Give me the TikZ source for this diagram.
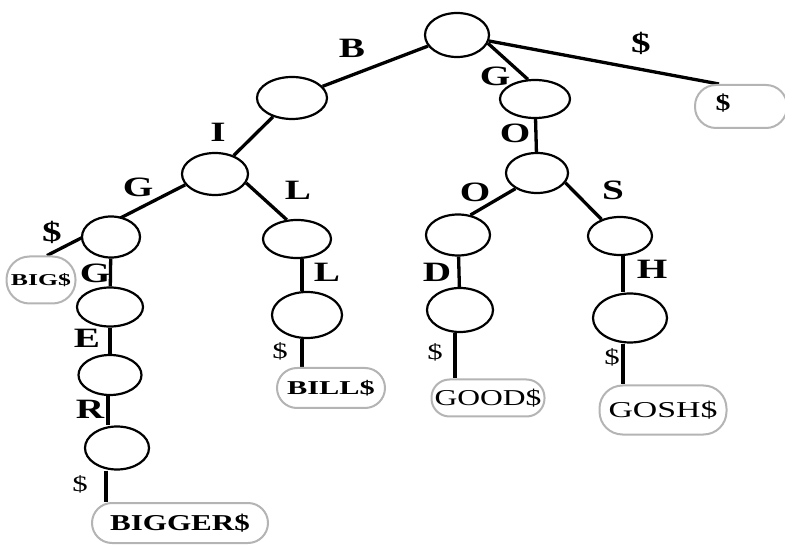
\documentclass[tikz,border=0pt]{standalone}
\usepackage{fontspec}
\usepackage{graphicx}
\setmainfont{Liberation Serif}
\usetikzlibrary{shapes.geometric}
\pgfdeclarelayer{bg}
\pgfsetlayers{bg,main}
\definecolor{leafgray}{RGB}{180,180,180}
\newcommand\sxt[2]{\scalebox{#1}[1]{#2}}
\begin{document}
\begin{tikzpicture}[x=1pt,y=-1pt,
  tnode/.style={draw, line width=2.2pt, ellipse, fill=white, inner sep=0pt},
  leaf/.style={draw=leafgray, line width=2pt, rounded corners=20pt, fill=white, inner sep=0pt, rectangle},
  edge/.style={line width=3.3pt},
  lab/.style={font=\fontsize{28}{28}\selectfont\bfseries, inner sep=0pt},
  slab/.style={font=\fontsize{22}{22}\selectfont, inner sep=0pt}]
\useasboundingbox (0,0) rectangle (785,545);

% internal nodes
\node[tnode, minimum width=64pt, minimum height=44pt] (root) at (457,35) {};
\node[tnode, minimum width=70pt, minimum height=42pt] (b) at (292,98) {};
\node[tnode, minimum width=70pt, minimum height=38pt] (go) at (535,99) {};
\node[tnode, minimum width=66pt, minimum height=42pt] (bi) at (215,174) {};
\node[tnode, minimum width=62pt, minimum height=40pt] (goo1) at (537,173) {};
\node[tnode, minimum width=58pt, minimum height=41pt] (big) at (111,237) {};
\node[tnode, minimum width=68pt, minimum height=38pt] (bil) at (297,239) {};
\node[tnode, minimum width=64pt, minimum height=41pt] (goo) at (458,235) {};
\node[tnode, minimum width=64pt, minimum height=38pt] (gos) at (620,236) {};
\node[tnode, minimum width=66pt, minimum height=39pt] (bigg) at (110,307) {};
\node[tnode, minimum width=70pt, minimum height=46pt] (bill) at (307,315) {};
\node[tnode, minimum width=66pt, minimum height=44pt] (good) at (460,310) {};
\node[tnode, minimum width=74pt, minimum height=49pt] (gosh) at (630,318) {};
\node[tnode, minimum width=63pt, minimum height=40pt] (bigge) at (110,375) {};
\node[tnode, minimum width=64pt, minimum height=43pt] (bigger) at (117,448) {};

% leaves
\node[leaf, minimum width=92pt, minimum height=43pt, rounded corners=21pt] (dleaf) at (741,106.5) {};
\node[font=\fontsize{23}{23}\selectfont\bfseries, inner sep=0pt] (dleaftxt) at (723,103) {\sxt{1.3}{\$}};
\node[leaf, minimum width=69pt, minimum height=47pt, rounded corners=23pt] (bigleaf) at (41,280)
  {\fontsize{16.6}{16.6}\selectfont\bfseries\sxt{1.55}{BIG\$}};
\node[leaf, minimum width=176pt, minimum height=40pt, rounded corners=20pt] (biggerleaf) at (180,523)
  {\fontsize{22.7}{22.7}\selectfont\bfseries\sxt{1.37}{BIGGER\$}};
\node[leaf, minimum width=108pt, minimum height=40pt, rounded corners=20pt] (billleaf) at (331,388)
  {\fontsize{19.6}{19.6}\selectfont\bfseries\sxt{1.55}{BILL\$}};
\node[leaf, minimum width=113pt, minimum height=37pt, rounded corners=18pt] (goodleaf) at (488,398)
  {\fontsize{22.7}{22.7}\selectfont\sxt{1.39}{GOOD\$}};
\node[leaf, minimum width=127pt, minimum height=49pt, rounded corners=23pt] (goshleaf) at (663,410)
  {\fontsize{22.7}{22.7}\selectfont\sxt{1.49}{GOSH\$}};

% edges
\begin{pgfonlayer}{bg}
\draw[edge] (root) -- (b);
\draw[edge] (root.-15) -- (go.110);
\draw[edge] (root) -- ([xshift=25pt]dleaf.north west);
\draw[edge] (b) -- (bi);
\draw[edge] (go) -- (goo1);
\draw[edge] (bi.200) -- ([xshift=6pt]bigleaf.north);
\draw[edge] (bi.-16) -- (bil.118);
\draw[edge] (goo1.216) -- (goo.58);
\draw[edge] (goo1.-19) -- (gos.138);
\draw[edge] (big) -- (bigg);
\draw[edge] (bigg) -- (bigge);
\draw[edge] ([xshift=-2pt]bigge.south) -- ([xshift=-9pt]bigger.north);
\draw[edge] ([xshift=-11pt]bigger.south) -- ([xshift=-74pt]biggerleaf.north);
\draw[edge] ([xshift=5pt]bil.south) -- ([xshift=-5pt]bill.north);
\draw[edge] ([xshift=-5pt]bill.south) -- ([xshift=-29pt]billleaf.north);
\draw[edge] (goo) -- (good);
\draw[edge] ([xshift=-5pt]good.south) -- ([xshift=-33pt]goodleaf.north);
\draw[edge] ([xshift=3pt]gos.south) -- ([xshift=-7pt]gosh.north);
\draw[edge] ([xshift=-7pt]gosh.south) -- ([xshift=-40pt]goshleaf.north);
\end{pgfonlayer}

% edge labels
\node[lab] (lB) at (352,48) {\sxt{1.4}{B}};
\node[lab] (lG1) at (495,76) {\sxt{1.4}{G}};
\node[lab] (lD1) at (641,43) {\sxt{1.4}{\$}};
\node[lab] (lI) at (218,132) {\sxt{1.4}{I}};
\node[lab] (lO1) at (515,133) {\sxt{1.4}{O}};
\node[lab] (lG2) at (138,187) {\sxt{1.4}{G}};
\node[lab] (lL1) at (298,190) {\sxt{1.4}{L}};
\node[lab] (lO2) at (475,192) {\sxt{1.4}{O}};
\node[lab] (lS) at (613,190) {\sxt{1.4}{S}};
\node[lab] (lD2) at (52,232) {\sxt{1.4}{\$}};
\node[lab] (lG3) at (95,273) {\sxt{1.4}{G}};
\node[lab] (lL2) at (327,272) {\sxt{1.4}{L}};
\node[lab] (lDd) at (437,272) {\sxt{1.4}{D}};
\node[lab] (lH) at (652,269) {\sxt{1.4}{H}};
\node[lab] (lE) at (87,338) {\sxt{1.4}{E}};
\node[lab] (lR) at (90,409) {\sxt{1.4}{R}};
\node[slab] (sD1) at (280,351) {\sxt{1.4}{\$}};
\node[slab] (sD2) at (435,352) {\sxt{1.4}{\$}};
\node[slab] (sD3) at (612,357) {\sxt{1.4}{\$}};
\node[slab] (sD4) at (80,484) {\sxt{1.4}{\$}};
\end{tikzpicture}
\end{document}
